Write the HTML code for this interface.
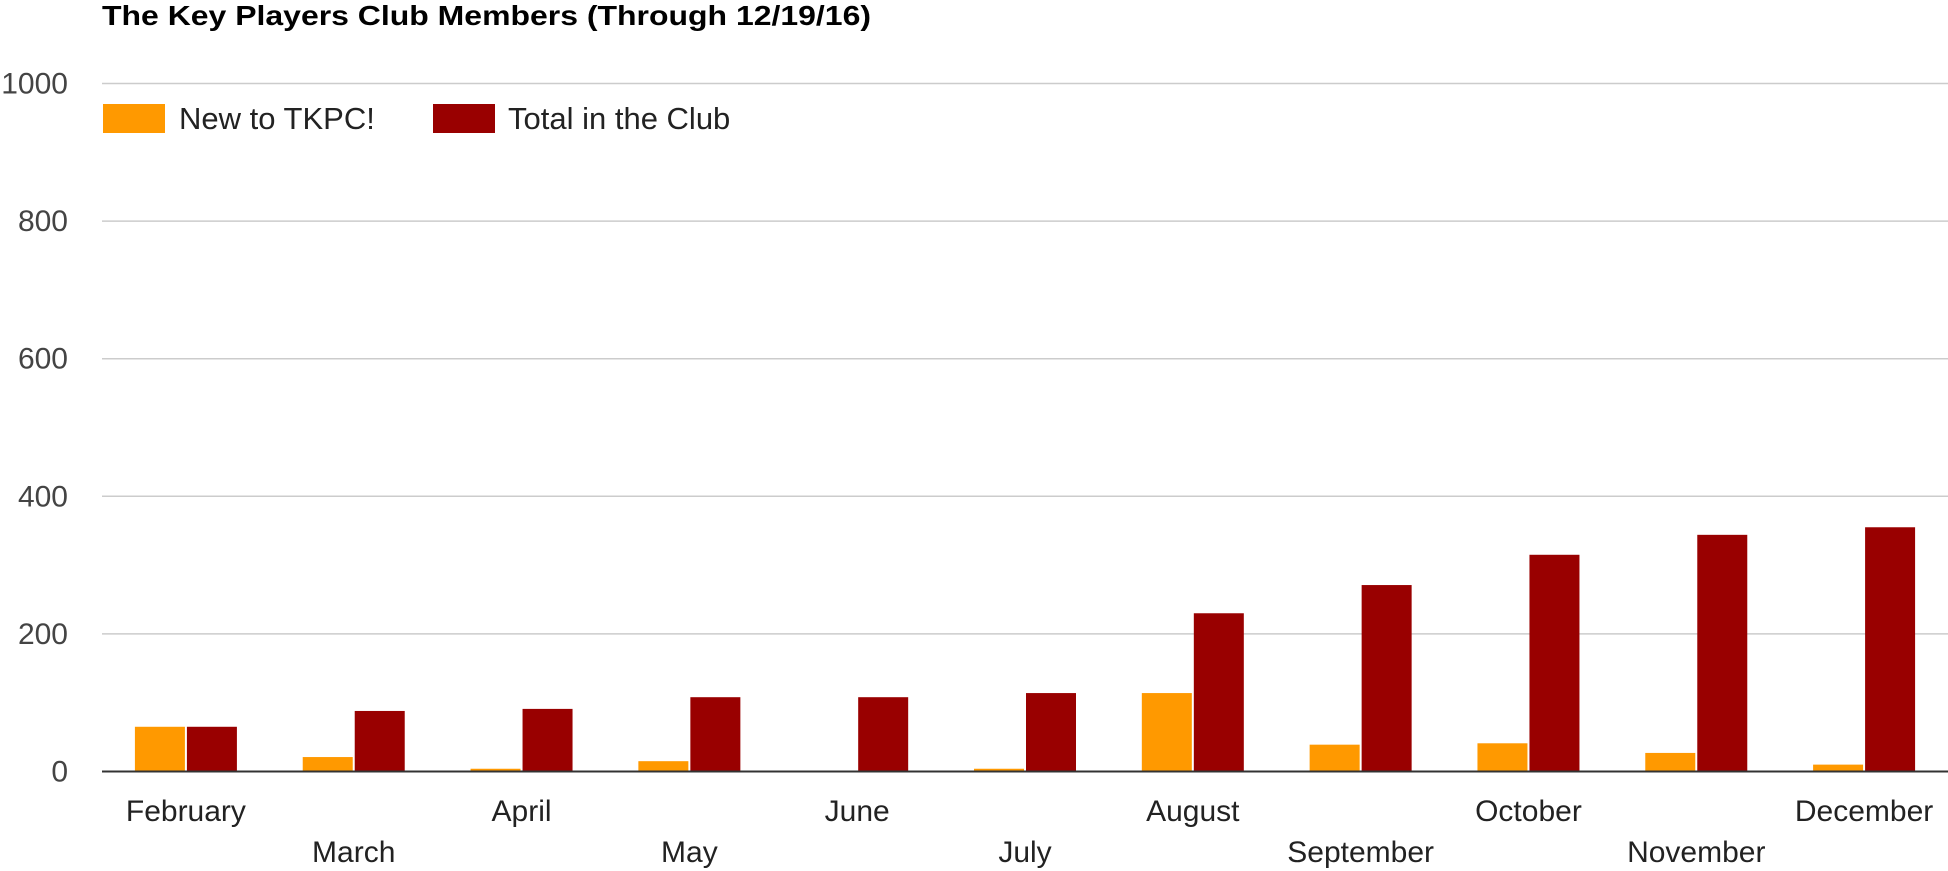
<!DOCTYPE html>
<html><head><meta charset="utf-8"><style>
html,body{margin:0;padding:0;background:#fff;}
svg{display:block;font-family:"Liberation Sans",Arial,sans-serif;}
</style></head><body>
<svg id="chart" width="1948" height="871" viewBox="0 0 1948 871">
<text x="102" y="25" font-size="28" font-weight="bold" fill="#000" textLength="769" lengthAdjust="spacingAndGlyphs">The Key Players Club Members (Through 12/19/16)</text>
<g id="grid"></g>
<g id="yax"></g>
<g id="bars"></g>
<g id="xax"></g>
<g>
<g>
<rect x="103" y="104" width="62" height="29" fill="#ff9900"/>
<text x="179" y="129" font-size="31" fill="#222">New to TKPC!</text></g>
<g>
<rect x="433" y="104" width="62" height="29" fill="#990000"/>
<text x="508" y="129" font-size="31" fill="#222">Total in the Club</text></g>
</g>
</svg>
<script>
const categories=["February","March","April","May","June","July","August","September","October","November","December"];
const newMembers=[65,21,4,15,0,4,114,39,41,27,10];
const totalMembers=[65,88,91,108,108,114,230,271,315,344,355];
const yTicks=[0,200,400,600,800,1000];
const NS="http://www.w3.org/2000/svg";
const left=102,right=1948,y0=771.5,pxPerUnit=0.688;
const band=(right-left)/categories.length;
function yScale(v){return y0-v*pxPerUnit;}
function xCenter(i){return left+band*(i+0.5);}
function mk(tag,attrs,parent){const e=document.createElementNS(NS,tag);for(const k in attrs)e.setAttribute(k,attrs[k]);parent.appendChild(e);return e;}
const grid=document.getElementById('grid'),yax=document.getElementById('yax'),bars=document.getElementById('bars'),xax=document.getElementById('xax');
yTicks.forEach(t=>{
 if(t>0){const l=mk('line',{x1:left,x2:right,y1:yScale(t),y2:yScale(t),stroke:'#cccccc','stroke-width':1.5},grid);
 
 }
 const tx=mk('text',{x:68,y:yScale(t)+10,'text-anchor':'end','font-size':30,fill:'#444'},yax);
 tx.textContent=t;
 
 
});
const bw=50,gap=2;
categories.forEach((c,i)=>{
 const cx=xCenter(i);
 const a=mk('rect',{x:cx-bw-gap/2,y:yScale(newMembers[i]),width:bw,height:newMembers[i]*pxPerUnit,fill:'#ff9900'},bars);
 
 
 const b=mk('rect',{x:cx+gap/2,y:yScale(totalMembers[i]),width:bw,height:totalMembers[i]*pxPerUnit,fill:'#990000'},bars);
 
 
 const t=mk('text',{x:cx,y:i%2===0?821:862,'text-anchor':'middle','font-size':30,fill:'#222'},xax);
 t.textContent=c;
 
 
});
const base=mk('line',{x1:left,x2:right,y1:y0,y2:y0,stroke:'#333','stroke-width':2},xax);


</script>
</body></html>
